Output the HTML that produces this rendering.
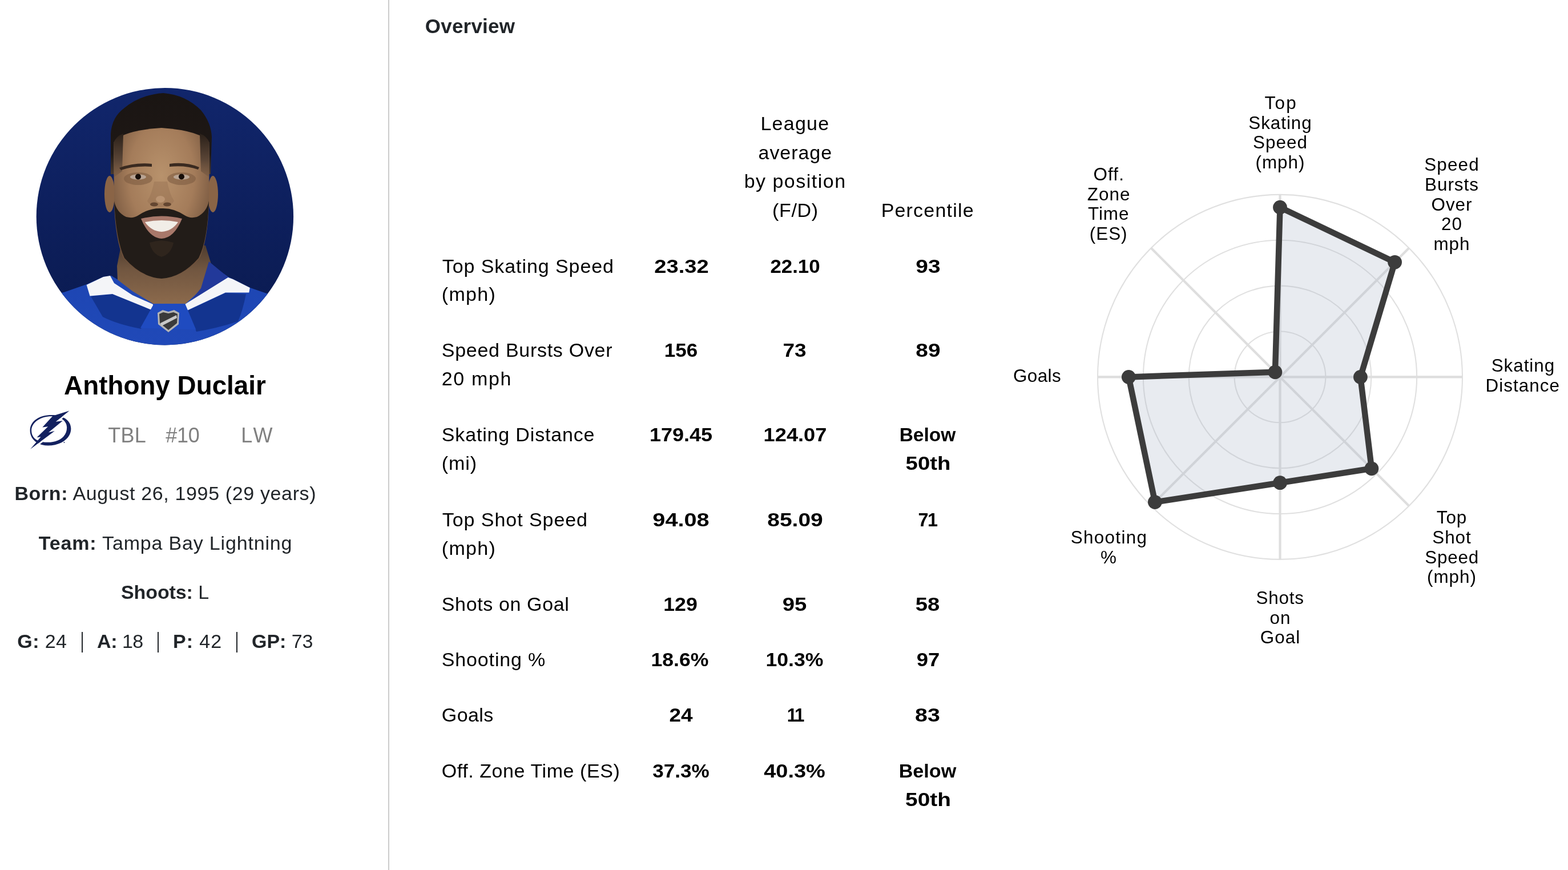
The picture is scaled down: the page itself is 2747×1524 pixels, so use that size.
<!DOCTYPE html>
<html lang="en"><head><meta charset="utf-8"><title>Anthony Duclair - Overview</title>
<style>
html,body{margin:0;padding:0;background:#fff;}
body{width:2747px;height:1524px;position:relative;overflow:hidden;font-family:"Liberation Sans", Arial, sans-serif;}
.t{position:absolute;white-space:nowrap;line-height:1;}
.t b{font-weight:700;}
</style></head><body>
<div style="position:absolute;left:680px;top:0;width:2.2px;height:1524px;background:#cccccc"></div>

<svg style="position:absolute;left:60px;top:150px" width="460" height="460" viewBox="60 150 460 460">
<defs>
<clipPath id="pc"><circle cx="288.9" cy="379.2" r="225.2"/></clipPath>
<linearGradient id="bg" x1="0" y1="0" x2="0" y2="1">
<stop offset="0" stop-color="#11266c"/><stop offset="0.5" stop-color="#0d1f5c"/><stop offset="1" stop-color="#0a1a4e"/>
</linearGradient>
<radialGradient id="skin" cx="0.5" cy="0.32" r="0.62">
<stop offset="0" stop-color="#b8926c"/><stop offset="0.55" stop-color="#a47c5a"/><stop offset="1" stop-color="#6e503a"/>
</radialGradient>
<linearGradient id="jer" x1="0" y1="0" x2="0" y2="1">
<stop offset="0" stop-color="#1d45b2"/><stop offset="1" stop-color="#2049b8"/>
</linearGradient>
<linearGradient id="neck" x1="0" y1="0" x2="0" y2="1">
<stop offset="0" stop-color="#4e3c2e"/><stop offset="0.4" stop-color="#715640"/><stop offset="1" stop-color="#8c6a4c"/>
</linearGradient>
<linearGradient id="fade" x1="0" y1="0" x2="0" y2="1">
<stop offset="0" stop-color="#2a2019"/><stop offset="0.6" stop-color="#5a4536"/><stop offset="1" stop-color="#7a5c44" stop-opacity="0.6"/>
</linearGradient>
<linearGradient id="hair" x1="0" y1="0" x2="0" y2="1">
<stop offset="0" stop-color="#1a1513"/><stop offset="0.75" stop-color="#1e1815"/><stop offset="1" stop-color="#4a3a2e"/>
</linearGradient>
</defs>
<g clip-path="url(#pc)">
<rect x="60" y="150" width="460" height="460" fill="url(#bg)"/>
<!-- jersey -->
<path d="M60,522 L112,512 L152,498 L181,485 L195,483 L210,492 L270,533 L324,533 L370,464 L400,485 L438,504 L470,515 L520,522 L520,610 L60,610 Z" fill="url(#jer)"/>
<path d="M159,519 L197,515 L266,543 L247,576 Q205,568 180,555 Z" fill="#13348f"/>
<path d="M329,544 L395,513 L431,515 Q425,545 417,563 Q380,575 344,581 Z" fill="#13348f"/>
<!-- neck -->
<path d="M212,430 L360,430 L371,466 L355,505 L324,533 L270,533 L232,510 L206,490 L205,466 Z" fill="url(#neck)"/>
<!-- navy inner collar right -->
<path d="M366,458 L400,486 L329,533 L352,505 Z" fill="#22399a"/>
<!-- white collars -->
<path d="M151.6,499 L181,485 L193,483 L200,496 L232,517 L268,533 L268,544 L197,515 L157.5,518.5 Z" fill="#f4f5f8"/>
<path d="M324,533 L399.5,486 L408,489 L437.8,504 L436.3,512.6 L395,512.6 L328.6,543.6 Z" fill="#f4f5f8"/>
<!-- NHL tab + shield -->
<path d="M269.6,532 L324.2,532 L343.4,577.5 L246,574.6 Z" fill="#1f4bc0"/>
<path d="M276,548 L285,543 L295,546 L305,543 L314,548 L313,568 L295,582 L277,568 Z" fill="#b4b4b4"/>
<path d="M279,550 L286,547 L295,549 L304,547 L311,550 L310,566 L295,578 L280,566 Z" fill="#3a3a3a"/>
<path d="M281,566 L309,552 L310,557 L283,571 Z" fill="#c8c8c8"/>
<!-- ears -->
<ellipse cx="192" cy="340" rx="9" ry="32" fill="#8a6446"/>
<ellipse cx="373" cy="340" rx="9" ry="32" fill="#8a6446"/>
<!-- hair -->
<path d="M194,305 L194,234 Q196,205 218,189 Q245,166 286,163 Q325,166 352,193 Q370,215 371,240 L369,305 Z" fill="url(#hair)"/>
<!-- face -->
<path d="M199,250 Q212,229 283,224 Q352,229 367,250 L366,356 Q364,420 350,452 Q320,486 283,487 Q246,486 216,452 Q202,420 200,356 Z" fill="url(#skin)"/>
<!-- temple fade -->
<path d="M199,250 Q204,238 216,234 L214,300 L200,310 Z" fill="url(#fade)"/>
<path d="M367,250 Q362,238 350,234 L352,300 L366,310 Z" fill="url(#fade)"/>
<!-- eyebrows -->
<path d="M209,294 Q236,284 266,287 L266,292 Q236,290 212,298 Z" fill="#3a2a20"/>
<path d="M297,287 Q325,283 349,293 L347,297 Q325,289 297,292 Z" fill="#3a2a20"/>
<!-- eye sockets -->
<ellipse cx="242" cy="313" rx="25" ry="11" fill="#7a5a40" opacity="0.55"/>
<ellipse cx="318" cy="313" rx="25" ry="11" fill="#7a5a40" opacity="0.55"/>
<!-- eyes -->
<ellipse cx="242" cy="310" rx="14" ry="4.5" fill="#b9a493"/>
<ellipse cx="318" cy="310" rx="14" ry="4.5" fill="#b9a493"/>
<circle cx="242" cy="309.5" r="5" fill="#160d08"/>
<circle cx="318" cy="309.5" r="5" fill="#160d08"/>
<!-- nose -->
<path d="M270,318 Q266,340 258,352 Q262,362 281,363 Q300,362 305,352 Q297,340 293,318 Z" fill="#8e6a4e" opacity="0.35"/>
<ellipse cx="270" cy="358" rx="7" ry="3.5" fill="#4a3020" opacity="0.7"/>
<ellipse cx="293" cy="358" rx="7" ry="3.5" fill="#4a3020" opacity="0.7"/>
<ellipse cx="281" cy="349" rx="8" ry="6" fill="#caa482" opacity="0.6"/>
<!-- beard -->
<path d="M200,352 Q203,420 218,452 Q248,486 283,488 Q318,486 348,452 Q364,420 366,352 Q362,372 345,380 Q333,383 325,378 Q305,364 283,365 Q261,364 241,378 Q233,383 221,380 Q204,372 200,352 Z" fill="#221c18"/>
<path d="M262,425 Q283,418 304,425 Q300,445 283,450 Q266,445 262,425 Z" fill="#4e3c2c" opacity="0.3"/>
<!-- mouth -->
<path d="M247,383 Q283,374 319,383 Q305,417 283,418 Q261,417 247,383 Z" fill="#a8786a"/>
<path d="M254,389 Q283,383 312,389 Q301,405 283,406 Q265,405 254,389 Z" fill="#f1ede7"/>
</g>
</svg>


<svg style="position:absolute;left:40px;top:710px" width="100" height="90" viewBox="0 0 1588 1429">
<defs>
<mask id="lm">
<rect x="0" y="0" width="1588" height="1429" fill="#fff"/>
<path d="M1295,150 L915,455 L943,492 L1323,187 Z" fill="#000"/>
<path d="M885,715 L210,1220 L240,1258 L915,752 Z" fill="#000"/>
</mask>
</defs>
<g fill="#13215f">
<path mask="url(#lm)" fill-rule="evenodd" d="M200,700 C200,430 470,270 800,270 C1130,270 1340,430 1340,650 C1340,920 1060,1120 700,1120 C430,1120 200,960 200,700 Z M240,700 C240,940 450,1030 690,1030 C1000,1030 1225,870 1225,620 C1225,430 1050,305 800,305 C500,305 240,470 240,700 Z"/>
<path d="M1295,150 L915,455 L1110,430 L715,755 L885,715 L210,1220 L500,878 L390,892 L700,590 L545,612 L835,295 Z"/>
<circle cx="1150" cy="1032" r="14"/>
</g>
</svg>

<svg style="position:absolute;left:0;top:0" width="2747" height="1524" viewBox="0 0 2747 1524"><circle cx="2242.5" cy="660.4" r="79.88" fill="none" stroke="#e0e0e0" stroke-width="2.1"/><circle cx="2242.5" cy="660.4" r="159.75" fill="none" stroke="#e0e0e0" stroke-width="2.1"/><circle cx="2242.5" cy="660.4" r="239.62" fill="none" stroke="#e0e0e0" stroke-width="2.1"/><circle cx="2242.5" cy="660.4" r="319.50" fill="none" stroke="#e0e0e0" stroke-width="2.1"/><line x1="2242.5" y1="660.4" x2="2242.50" y2="340.90" stroke="#dedede" stroke-width="4.2"/><line x1="2242.5" y1="660.4" x2="2468.42" y2="434.48" stroke="#dedede" stroke-width="4.2"/><line x1="2242.5" y1="660.4" x2="2562.00" y2="660.40" stroke="#dedede" stroke-width="4.2"/><line x1="2242.5" y1="660.4" x2="2468.42" y2="886.32" stroke="#dedede" stroke-width="4.2"/><line x1="2242.5" y1="660.4" x2="2242.50" y2="979.90" stroke="#dedede" stroke-width="4.2"/><line x1="2242.5" y1="660.4" x2="2016.58" y2="886.32" stroke="#dedede" stroke-width="4.2"/><line x1="2242.5" y1="660.4" x2="1923.00" y2="660.40" stroke="#dedede" stroke-width="4.2"/><line x1="2242.5" y1="660.4" x2="2016.58" y2="434.48" stroke="#dedede" stroke-width="4.2"/><polygon points="2242.50,363.26 2443.57,459.33 2383.40,660.40 2402.90,820.80 2242.50,845.71 2023.36,879.54 1977.32,660.40 2233.92,651.82" fill="rgb(171,182,200)" fill-opacity="0.27" stroke="#3c3c3c" stroke-width="10.5" stroke-linejoin="round"/><circle cx="2242.50" cy="363.26" r="12.4" fill="#3c3c3c"/><circle cx="2443.57" cy="459.33" r="12.4" fill="#3c3c3c"/><circle cx="2383.40" cy="660.40" r="12.4" fill="#3c3c3c"/><circle cx="2402.90" cy="820.80" r="12.4" fill="#3c3c3c"/><circle cx="2242.50" cy="845.71" r="12.4" fill="#3c3c3c"/><circle cx="2023.36" cy="879.54" r="12.4" fill="#3c3c3c"/><circle cx="1977.32" cy="660.40" r="12.4" fill="#3c3c3c"/><circle cx="2233.92" cy="651.82" r="12.4" fill="#3c3c3c"/></svg>
<div style="position:absolute;left:143.2px;top:1107.2px;width:2.2px;height:36.3px;background:#212529"></div><div style="position:absolute;left:276.3px;top:1107.2px;width:2.2px;height:36.3px;background:#212529"></div><div style="position:absolute;left:414.1px;top:1107.2px;width:2.2px;height:36.3px;background:#212529"></div>
<div class="t" style="top:652.9px;font-size:45.8px;font-weight:700;color:#000;letter-spacing:0.01px;left:39.0px;width:500px;text-align:center;">Anthony Duclair</div>
<div class="t" style="top:745.2px;font-size:36px;font-weight:400;color:#808080;letter-spacing:0.30px;left:189.2px;">TBL</div>
<div class="t" style="top:745.2px;font-size:36px;font-weight:400;color:#808080;letter-spacing:-0.25px;left:290.2px;">#10</div>
<div class="t" style="top:745.2px;font-size:36px;font-weight:400;color:#808080;letter-spacing:3.90px;left:422.2px;">LW</div>
<div class="t" style="top:847.2px;font-size:34px;font-weight:400;color:#212529;letter-spacing:0.64px;left:-30.2px;width:640px;text-align:center;"><b>Born:</b> August 26, 1995 (29 years)</div>
<div class="t" style="top:934.3px;font-size:34px;font-weight:400;color:#212529;letter-spacing:0.82px;left:-30.0px;width:640px;text-align:center;"><b>Team:</b> Tampa Bay Lightning</div>
<div class="t" style="top:1020.2px;font-size:34px;font-weight:400;color:#212529;letter-spacing:-0.09px;left:-31.0px;width:640px;text-align:center;"><b>Shoots:</b> L</div>
<div class="t" style="top:1106.2px;font-size:34px;font-weight:400;color:#212529;letter-spacing:0.40px;left:30.3px;"><b>G:</b> 24</div>
<div class="t" style="top:1106.2px;font-size:34px;font-weight:400;color:#212529;letter-spacing:-0.50px;left:170.1px;"><b>A:</b> 18</div>
<div class="t" style="top:1106.2px;font-size:34px;font-weight:400;color:#212529;letter-spacing:0.95px;left:303.0px;"><b>P:</b> 42</div>
<div class="t" style="top:1106.2px;font-size:34px;font-weight:400;color:#212529;letter-spacing:-0.08px;left:441.1px;"><b>GP:</b> 73</div>
<div class="t" style="top:27.5px;font-size:35px;font-weight:700;color:#212529;letter-spacing:0.21px;left:744.8px;">Overview</div>
<div class="t" style="top:199.4px;font-size:34px;font-weight:400;color:#000;letter-spacing:1.24px;left:1242.9px;width:300px;text-align:center;">League</div>
<div class="t" style="top:249.8px;font-size:34px;font-weight:400;color:#000;letter-spacing:0.93px;left:1243.3px;width:300px;text-align:center;">average</div>
<div class="t" style="top:300.2px;font-size:34px;font-weight:400;color:#000;letter-spacing:1.49px;left:1243.1px;width:300px;text-align:center;">by position</div>
<div class="t" style="top:350.6px;font-size:34px;font-weight:400;color:#000;letter-spacing:0.72px;left:1243.4px;width:300px;text-align:center;">(F/D)</div>
<div class="t" style="top:350.6px;font-size:34px;font-weight:400;color:#000;letter-spacing:1.19px;left:1475.2px;width:300px;text-align:center;">Percentile</div>
<div class="t" style="top:448.5px;font-size:34px;font-weight:400;color:#000;letter-spacing:0.92px;left:774.8px;">Top Skating Speed</div>
<div class="t" style="top:498.3px;font-size:34px;font-weight:400;color:#000;letter-spacing:1.34px;left:773.8px;">(mph)</div>
<div class="t" style="top:448.5px;font-size:34px;font-weight:700;color:#000;left:1064.0px;width:260px;text-align:center;transform:scaleX(1.1197);">23.32</div>
<div class="t" style="top:448.5px;font-size:34px;font-weight:700;color:#000;left:1262.7px;width:260px;text-align:center;transform:scaleX(1.0243);">22.10</div>
<div class="t" style="top:448.5px;font-size:34px;font-weight:700;color:#000;left:1495.9px;width:260px;text-align:center;transform:scaleX(1.1430);">93</div>
<div class="t" style="top:596.0px;font-size:34px;font-weight:400;color:#000;letter-spacing:0.72px;left:773.8px;">Speed Bursts Over</div>
<div class="t" style="top:645.8px;font-size:34px;font-weight:400;color:#000;letter-spacing:1.64px;left:773.8px;">20 mph</div>
<div class="t" style="top:596.0px;font-size:34px;font-weight:700;color:#000;left:1062.7px;width:260px;text-align:center;transform:scaleX(1.0299);">156</div>
<div class="t" style="top:596.0px;font-size:34px;font-weight:700;color:#000;left:1262.2px;width:260px;text-align:center;transform:scaleX(1.0883);">73</div>
<div class="t" style="top:596.0px;font-size:34px;font-weight:700;color:#000;left:1495.9px;width:260px;text-align:center;transform:scaleX(1.1430);">89</div>
<div class="t" style="top:743.9px;font-size:34px;font-weight:400;color:#000;letter-spacing:0.84px;left:773.8px;">Skating Distance</div>
<div class="t" style="top:793.7px;font-size:34px;font-weight:400;color:#000;letter-spacing:0.95px;left:773.8px;">(mi)</div>
<div class="t" style="top:743.9px;font-size:34px;font-weight:700;color:#000;left:1063.0px;width:260px;text-align:center;transform:scaleX(1.0594);">179.45</div>
<div class="t" style="top:743.9px;font-size:34px;font-weight:700;color:#000;left:1262.5px;width:260px;text-align:center;transform:scaleX(1.0652);">124.07</div>
<div class="t" style="top:743.9px;font-size:34px;font-weight:700;color:#000;left:1494.7px;width:260px;text-align:center;transform:scaleX(0.9851);">Below</div>
<div class="t" style="top:793.7px;font-size:34px;font-weight:700;color:#000;left:1496.2px;width:260px;text-align:center;transform:scaleX(1.1270);">50th</div>
<div class="t" style="top:893.0px;font-size:34px;font-weight:400;color:#000;letter-spacing:0.94px;left:774.8px;">Top Shot Speed</div>
<div class="t" style="top:942.8px;font-size:34px;font-weight:400;color:#000;letter-spacing:1.34px;left:773.8px;">(mph)</div>
<div class="t" style="top:893.0px;font-size:34px;font-weight:700;color:#000;left:1063.0px;width:260px;text-align:center;transform:scaleX(1.1673);">94.08</div>
<div class="t" style="top:893.0px;font-size:34px;font-weight:700;color:#000;left:1263.2px;width:260px;text-align:center;transform:scaleX(1.1451);">85.09</div>
<div class="t" style="top:893.0px;font-size:34px;font-weight:700;color:#000;letter-spacing:-1.50px;left:1495.4px;width:260px;text-align:center;transform:scaleX(0.9500);">71</div>
<div class="t" style="top:1041.1px;font-size:34px;font-weight:400;color:#000;letter-spacing:0.63px;left:773.8px;">Shots on Goal</div>
<div class="t" style="top:1041.1px;font-size:34px;font-weight:700;color:#000;left:1062.2px;width:260px;text-align:center;transform:scaleX(1.0487);">129</div>
<div class="t" style="top:1041.1px;font-size:34px;font-weight:700;color:#000;left:1262.4px;width:260px;text-align:center;transform:scaleX(1.1254);">95</div>
<div class="t" style="top:1041.1px;font-size:34px;font-weight:700;color:#000;left:1494.7px;width:260px;text-align:center;transform:scaleX(1.1238);">58</div>
<div class="t" style="top:1138.1px;font-size:34px;font-weight:400;color:#000;letter-spacing:0.85px;left:773.8px;">Shooting %</div>
<div class="t" style="top:1138.1px;font-size:34px;font-weight:700;color:#000;left:1060.8px;width:260px;text-align:center;transform:scaleX(1.0482);">18.6%</div>
<div class="t" style="top:1138.1px;font-size:34px;font-weight:700;color:#000;left:1261.5px;width:260px;text-align:center;transform:scaleX(1.0479);">10.3%</div>
<div class="t" style="top:1138.1px;font-size:34px;font-weight:700;color:#000;left:1495.7px;width:260px;text-align:center;transform:scaleX(1.0702);">97</div>
<div class="t" style="top:1235.2px;font-size:34px;font-weight:400;color:#000;letter-spacing:0.42px;left:773.8px;">Goals</div>
<div class="t" style="top:1235.2px;font-size:34px;font-weight:700;color:#000;left:1062.5px;width:260px;text-align:center;transform:scaleX(1.0858);">24</div>
<div class="t" style="top:1235.2px;font-size:34px;font-weight:700;color:#000;letter-spacing:-2.50px;left:1262.7px;width:260px;text-align:center;transform:scaleX(0.9200);">11</div>
<div class="t" style="top:1235.2px;font-size:34px;font-weight:700;color:#000;left:1495.2px;width:260px;text-align:center;transform:scaleX(1.1564);">83</div>
<div class="t" style="top:1333.0px;font-size:34px;font-weight:400;color:#000;letter-spacing:0.57px;left:773.8px;">Off. Zone Time (ES)</div>
<div class="t" style="top:1333.0px;font-size:34px;font-weight:700;color:#000;left:1063.0px;width:260px;text-align:center;transform:scaleX(1.0320);">37.3%</div>
<div class="t" style="top:1333.0px;font-size:34px;font-weight:700;color:#000;left:1262.2px;width:260px;text-align:center;transform:scaleX(1.1158);">40.3%</div>
<div class="t" style="top:1333.0px;font-size:34px;font-weight:700;color:#000;left:1494.7px;width:260px;text-align:center;transform:scaleX(1.0053);">Below</div>
<div class="t" style="top:1382.8px;font-size:34px;font-weight:700;color:#000;left:1495.7px;width:260px;text-align:center;transform:scaleX(1.1430);">50th</div>
<div class="t" style="top:165.1px;font-size:31.4px;font-weight:400;color:#000;letter-spacing:2.25px;left:2124.3px;width:240px;text-align:center;">Top</div>
<div class="t" style="top:199.7px;font-size:31.4px;font-weight:400;color:#000;letter-spacing:0.95px;left:2123.0px;width:240px;text-align:center;">Skating</div>
<div class="t" style="top:234.3px;font-size:31.4px;font-weight:400;color:#000;letter-spacing:1.00px;left:2123.0px;width:240px;text-align:center;">Speed</div>
<div class="t" style="top:268.9px;font-size:31.4px;font-weight:400;color:#000;letter-spacing:1.00px;left:2123.0px;width:240px;text-align:center;">(mph)</div>
<div class="t" style="top:273.4px;font-size:31.4px;font-weight:400;color:#000;letter-spacing:1.15px;left:2423.5px;width:240px;text-align:center;">Speed</div>
<div class="t" style="top:308.0px;font-size:31.4px;font-weight:400;color:#000;letter-spacing:1.00px;left:2423.5px;width:240px;text-align:center;">Bursts</div>
<div class="t" style="top:342.6px;font-size:31.4px;font-weight:400;color:#000;letter-spacing:1.00px;left:2423.5px;width:240px;text-align:center;">Over</div>
<div class="t" style="top:377.2px;font-size:31.4px;font-weight:400;color:#000;letter-spacing:1.00px;left:2423.5px;width:240px;text-align:center;">20</div>
<div class="t" style="top:411.8px;font-size:31.4px;font-weight:400;color:#000;letter-spacing:1.00px;left:2423.5px;width:240px;text-align:center;">mph</div>
<div class="t" style="top:625.3px;font-size:31.4px;font-weight:400;color:#000;letter-spacing:0.95px;left:2548.4px;width:240px;text-align:center;">Skating</div>
<div class="t" style="top:659.9px;font-size:31.4px;font-weight:400;color:#000;letter-spacing:1.03px;left:2547.8px;width:240px;text-align:center;">Distance</div>
<div class="t" style="top:891.4px;font-size:31.4px;font-weight:400;color:#000;letter-spacing:1.00px;left:2423.5px;width:240px;text-align:center;">Top</div>
<div class="t" style="top:926.0px;font-size:31.4px;font-weight:400;color:#000;letter-spacing:1.00px;left:2423.5px;width:240px;text-align:center;">Shot</div>
<div class="t" style="top:960.6px;font-size:31.4px;font-weight:400;color:#000;letter-spacing:0.75px;left:2423.6px;width:240px;text-align:center;">Speed</div>
<div class="t" style="top:995.2px;font-size:31.4px;font-weight:400;color:#000;letter-spacing:1.00px;left:2423.5px;width:240px;text-align:center;">(mph)</div>
<div class="t" style="top:1032.0px;font-size:31.4px;font-weight:400;color:#000;letter-spacing:0.75px;left:2122.6px;width:240px;text-align:center;">Shots</div>
<div class="t" style="top:1066.6px;font-size:31.4px;font-weight:400;color:#000;letter-spacing:1.00px;left:2123.0px;width:240px;text-align:center;">on</div>
<div class="t" style="top:1101.2px;font-size:31.4px;font-weight:400;color:#000;letter-spacing:1.00px;left:2123.0px;width:240px;text-align:center;">Goal</div>
<div class="t" style="top:926.0px;font-size:31.4px;font-weight:400;color:#000;letter-spacing:1.33px;left:1823.0px;width:240px;text-align:center;">Shooting</div>
<div class="t" style="top:960.6px;font-size:31.4px;font-weight:400;color:#000;letter-spacing:1.00px;left:1822.4px;width:240px;text-align:center;">%</div>
<div class="t" style="top:643.2px;font-size:31.4px;font-weight:400;color:#000;letter-spacing:0.42px;left:1697.1px;width:240px;text-align:center;">Goals</div>
<div class="t" style="top:290.2px;font-size:31.4px;font-weight:400;color:#000;letter-spacing:1.20px;left:1822.8px;width:240px;text-align:center;">Off.</div>
<div class="t" style="top:324.8px;font-size:31.4px;font-weight:400;color:#000;letter-spacing:1.03px;left:1822.7px;width:240px;text-align:center;">Zone</div>
<div class="t" style="top:359.4px;font-size:31.4px;font-weight:400;color:#000;letter-spacing:1.00px;left:1822.2px;width:240px;text-align:center;">Time</div>
<div class="t" style="top:394.0px;font-size:31.4px;font-weight:400;color:#000;letter-spacing:1.00px;left:1822.2px;width:240px;text-align:center;">(ES)</div>
</body></html>
